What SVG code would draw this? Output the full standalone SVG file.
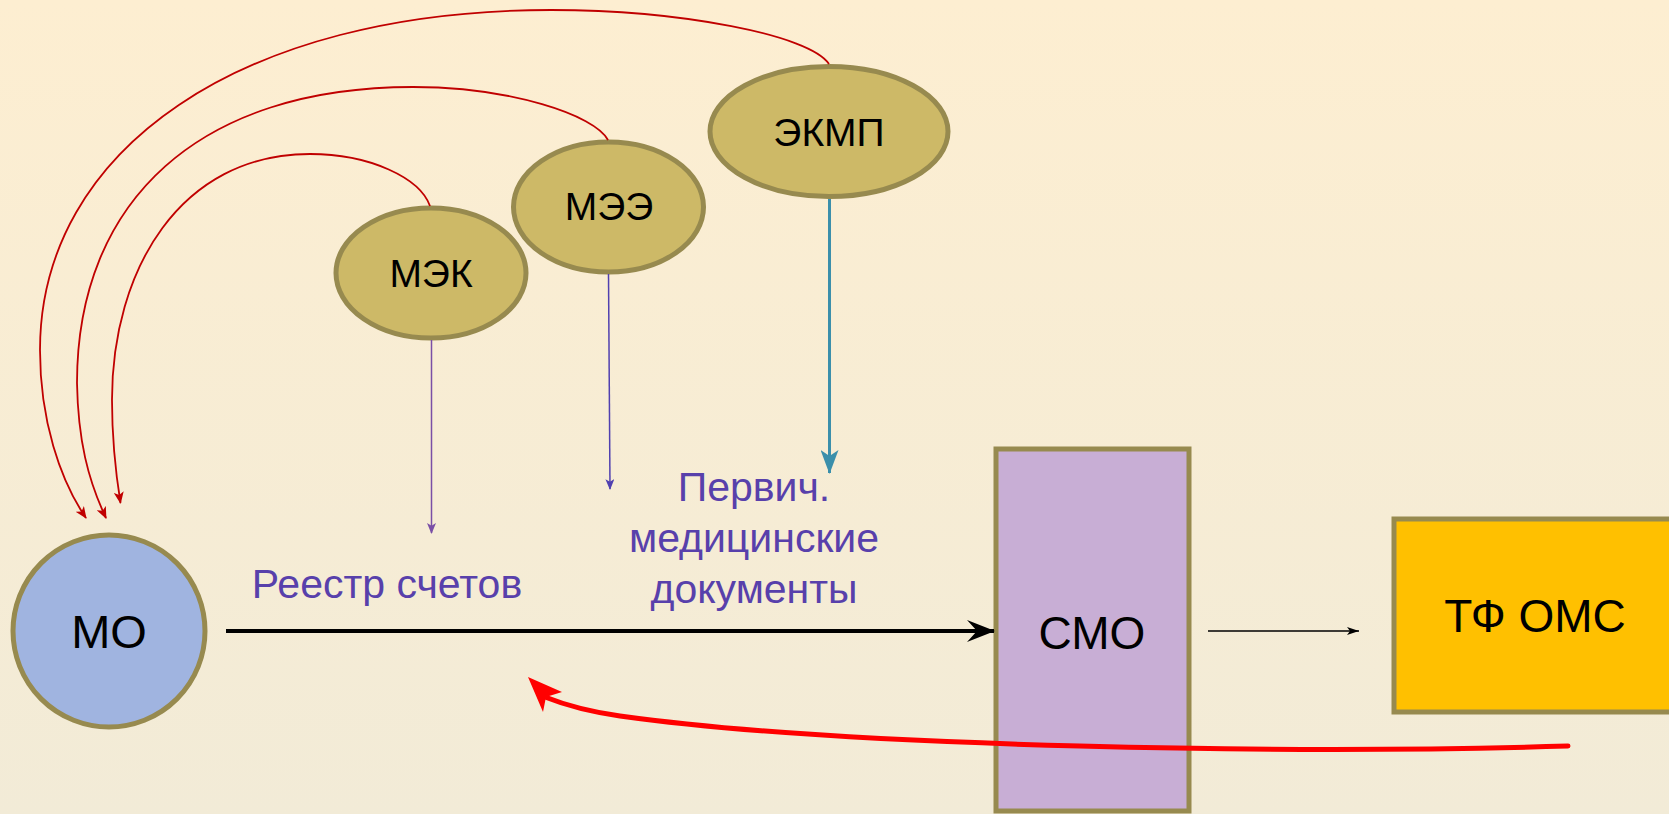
<svg xmlns="http://www.w3.org/2000/svg" width="1669" height="814" viewBox="0 0 1669 814">
<defs>
<linearGradient id="bg" x1="0" y1="0" x2="0" y2="1">
<stop offset="0" stop-color="#fdeed1"/>
<stop offset="1" stop-color="#f2ebd7"/>
</linearGradient>
<marker id="mRed" viewBox="0 0 12 10" refX="11" refY="5" markerWidth="12" markerHeight="10" markerUnits="userSpaceOnUse" orient="auto">
<path d="M0,0 L12,5 L0,10 L3,5 Z" fill="#c00000"/>
</marker>
<marker id="mViolet" viewBox="0 0 12 10" refX="11" refY="5" markerWidth="12" markerHeight="9" markerUnits="userSpaceOnUse" orient="auto">
<path d="M0,0 L12,5 L0,10 L3,5 Z" fill="#7a4fa6"/>
</marker>
<marker id="mPurple" viewBox="0 0 12 10" refX="11" refY="5" markerWidth="12" markerHeight="9" markerUnits="userSpaceOnUse" orient="auto">
<path d="M0,0 L12,5 L0,10 L3,5 Z" fill="#5040b0"/>
</marker>
<marker id="mTeal" viewBox="0 0 24 18" refX="23" refY="9" markerWidth="24" markerHeight="18" markerUnits="userSpaceOnUse" orient="auto">
<path d="M0,0 L24,9 L0,18 L6,9 Z" fill="#3b8fab"/>
</marker>
<marker id="mBlack" viewBox="0 0 28 22" refX="27" refY="11" markerWidth="28" markerHeight="22" markerUnits="userSpaceOnUse" orient="auto">
<path d="M0,0 L28,11 L0,22 L10,11 Z" fill="#000"/>
</marker>
<marker id="mSmall" viewBox="0 0 12 8" refX="12" refY="4" markerWidth="12" markerHeight="8" markerUnits="userSpaceOnUse" orient="auto">
<path d="M0,0 L12,4 L0,8 L3,4 Z" fill="#000"/>
</marker>
<style>
.ell{fill:#cdb967;stroke:#978a4f;stroke-width:5}
.box{stroke:#978a4f;stroke-width:5}
.lbl{font-family:"Liberation Sans",Arial,sans-serif;fill:#000;text-anchor:middle}
.pt{font-family:"Liberation Sans",Arial,sans-serif;fill:#5840ab;font-size:41px;text-anchor:middle}
.red{fill:none;stroke:#c00000;stroke-width:1.8;marker-end:url(#mRed)}
</style>
</defs>
<rect x="0" y="0" width="1669" height="814" fill="url(#bg)"/>

<g id="node-mo">
<circle cx="109" cy="631" r="96" fill="#a0b4e0" stroke="#978a4f" stroke-width="5"/>
<text class="lbl" x="109" y="648" font-size="47">МО</text>
</g>

<g id="node-mek">
<ellipse class="ell" cx="431" cy="273" rx="95" ry="65"/>
<text class="lbl" x="431" y="287" font-size="39">МЭК</text>
</g>

<g id="node-mee">
<ellipse class="ell" cx="608.5" cy="207" rx="95" ry="65"/>
<text class="lbl" x="609" y="220" font-size="39">МЭЭ</text>
</g>

<g id="node-ekmp">
<ellipse class="ell" cx="829" cy="131.5" rx="119" ry="65"/>
<text class="lbl" x="829" y="146" font-size="39">ЭКМП</text>
</g>

<g id="node-smo">
<rect class="box" x="996" y="449" width="193" height="362" fill="#c8aed5"/>
<text class="lbl" x="1092" y="649" font-size="46">СМО</text>
</g>

<g id="node-tfoms">
<rect class="box" x="1394" y="519" width="280" height="193" fill="#ffc000"/>
<text class="lbl" x="1535" y="632" font-size="46">ТФ ОМС</text>
</g>

<g id="labels">
<text class="pt" x="387" y="598">Реестр счетов</text>
<text class="pt" x="754" y="501">Первич.</text>
<text class="pt" x="754" y="552">медицинские</text>
<text class="pt" x="754" y="603">документы</text>
</g>

<g id="connectors">
<path class="red" d="M829,64 C810,35 680,10 551,10 C240,10 40,150 40,350 C40,420 60,480 86,518"/>
<path class="red" d="M608,140 C595,115 510,87 413,87 C200,87 77,200 77,383 C78,440 88,480 106,518"/>
<path class="red" d="M430,206 C420,178 370,154 310,154 C180,154 112,270 112,400 C112,440 116,475 120.5,503"/>
<line x1="431.5" y1="340" x2="431.5" y2="533" stroke="#7a4fa6" stroke-width="1.5" marker-end="url(#mViolet)"/>
<line x1="608.5" y1="274" x2="610" y2="489" stroke="#5040b0" stroke-width="1.5" marker-end="url(#mPurple)"/>
<line x1="829.5" y1="199" x2="829.5" y2="473" stroke="#3b8fab" stroke-width="3" marker-end="url(#mTeal)"/>
<line x1="226" y1="631" x2="994" y2="631" stroke="#000" stroke-width="4" marker-end="url(#mBlack)"/>
<line x1="1208" y1="631" x2="1359" y2="631" stroke="#000" stroke-width="1.5" marker-end="url(#mSmall)"/>
<path d="M1568,746 C1300,754 850,748 620,716 C585,711 560,703 545,697" fill="none" stroke="#ff0000" stroke-width="5" stroke-linecap="round"/>
<polygon points="528,677 562,692 546,697 543,712" fill="#ff0000"/>
</g>
</svg>
